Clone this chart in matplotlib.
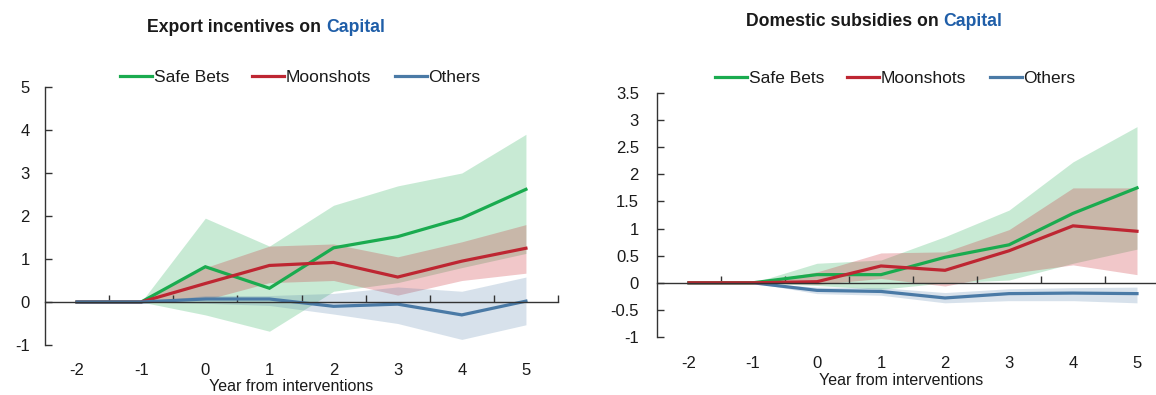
import numpy as np
import matplotlib
matplotlib.use("Agg")
import matplotlib.pyplot as plt

plt.rcParams["font.family"] = ["Liberation Sans", "DejaVu Sans"]

# ---- data -----------------------------------------------------------------
years = [-2, -1, 0, 1, 2, 3, 4, 5]
series_names = ["Safe Bets", "Moonshots", "Others"]

# Export incentives on Capital
exp_safe = [0, 0, 0.82, 0.32, 1.26, 1.52, 1.95, 2.62]
exp_safe_hi = [0, 0, 1.95, 1.30, 2.25, 2.70, 3.00, 3.90]
exp_safe_lo = [0, 0, -0.30, -0.68, 0.25, 0.45, 0.80, 1.13]
exp_moon = [0, 0, 0.43, 0.85, 0.92, 0.58, 0.95, 1.25]
exp_moon_hi = [0, 0, 0.80, 1.30, 1.35, 1.05, 1.40, 1.80]
exp_moon_lo = [0, 0, 0.05, 0.45, 0.50, 0.16, 0.50, 0.67]
exp_oth = [0, 0, 0.07, 0.07, -0.10, -0.05, -0.30, 0.02]
exp_oth_hi = [0, 0, 0.15, 0.15, 0.20, 0.35, 0.25, 0.58]
exp_oth_lo = [0, 0, -0.03, -0.08, -0.28, -0.50, -0.87, -0.53]

# Domestic subsidies on Capital
dom_safe = [0, 0, 0.15, 0.15, 0.47, 0.70, 1.28, 1.75]
dom_safe_hi = [0, 0, 0.36, 0.42, 0.85, 1.34, 2.23, 2.88]
dom_safe_lo = [0, 0, -0.05, -0.12, 0.00, 0.05, 0.36, 0.62]
dom_moon = [0, 0, 0.02, 0.31, 0.23, 0.59, 1.05, 0.95]
dom_moon_hi = [0, 0, 0.20, 0.55, 0.57, 0.98, 1.75, 1.75]
dom_moon_lo = [0, 0, -0.03, 0.08, -0.06, 0.17, 0.33, 0.15]
dom_oth = [0, 0, -0.14, -0.16, -0.28, -0.20, -0.19, -0.20]
dom_oth_hi = [0, 0, -0.08, -0.09, -0.18, -0.11, -0.09, -0.08]
dom_oth_lo = [0, 0, -0.20, -0.23, -0.37, -0.33, -0.33, -0.37]

left_yticks = [-1, 0, 1, 2, 3, 4, 5]
left_ylabels = ["-1", "0", "1", "2", "3", "4", "5"]
right_yticks = [-1, -0.5, 0, 0.5, 1, 1.5, 2, 2.5, 3, 3.5]
right_ylabels = ["-1", "-0.5", "0", "0.5", "1", "1.5", "2", "2.5", "3", "3.5"]
year_labels = ["-2", "-1", "0", "1", "2", "3", "4", "5"]

# ---- style ----------------------------------------------------------------
GREEN = "#1aab4f"
RED = "#be2632"
BLUE = "#4a7aa6"
BAND = {"green": ("#1aab4f", 0.24), "red": ("#c8202a", 0.25), "blue": ("#4a7aa6", 0.22)}
AXIS_C = "#333333"
TEXT_C = "#1a1a1a"
TITLE_BLUE = "#1f5ea8"
LW = 2.3

W, H = 1156, 395
fig = plt.figure(figsize=(W / 100, H / 100), dpi=100)


def px_box(x0, x1, ytop, ybot):
    return [x0 / W, 1 - ybot / H, (x1 - x0) / W, (ybot - ytop) / H]


def style_axes(ax, ylim, yticks, ylabels, ypad, xpad, xlabel_x):
    ax.set_xlim(-2.5, 5.5)
    ax.set_ylim(*ylim)
    for s in ("top", "right"):
        ax.spines[s].set_visible(False)
    ax.spines["bottom"].set_position(("data", 0))
    for s in ("bottom", "left"):
        ax.spines[s].set_color(AXIS_C)
        ax.spines[s].set_linewidth(1.0)
    # category boundaries carry the tick marks on the zero line
    ax.set_xticks(np.arange(-1.5, 6.0, 1.0))
    ax.tick_params(axis="x", direction="in", length=5, width=1,
                   color=AXIS_C, labelbottom=False)
    ax.set_yticks(yticks)
    ax.set_yticklabels(ylabels)
    ax.tick_params(axis="y", direction="in", length=5, width=1, color=AXIS_C,
                   pad=ypad, labelsize=12, labelcolor=TEXT_C)
    # category labels along the bottom edge
    sec = ax.secondary_xaxis("bottom")
    sec.set_xticks(years, labels=year_labels)
    sec.tick_params(length=0, pad=xpad, labelsize=12, labelcolor=TEXT_C)
    sec.spines["bottom"].set_visible(False)
    sec.set_xlabel("Year from interventions", fontsize=11.5, color=TEXT_C,
                   labelpad=1)
    sec.xaxis.label.set_x(xlabel_x)


def draw_panel(ax, safe, safe_lo, safe_hi, moon, moon_lo, moon_hi,
               oth, oth_lo, oth_hi, order):
    ax.fill_between(years, safe_lo, safe_hi, color=BAND["green"][0],
                    alpha=BAND["green"][1], lw=0)
    ax.fill_between(years, moon_lo, moon_hi, color=BAND["red"][0],
                    alpha=BAND["red"][1], lw=0)
    ax.fill_between(years, oth_lo, oth_hi, color=BAND["blue"][0],
                    alpha=BAND["blue"][1], lw=0)
    lines = {}
    specs = {"Safe Bets": (safe, GREEN), "Moonshots": (moon, RED),
             "Others": (oth, BLUE)}
    for name in order:
        vals, col = specs[name]
        (ln,) = ax.plot(years, vals, color=col, lw=LW,
                        solid_joinstyle="miter", label=name)
        lines[name] = ln
    return [lines[n] for n in series_names]


axL = fig.add_axes(px_box(45, 558, 87, 345))
axR = fig.add_axes(px_box(657, 1169, 93, 337))

style_axes(axL, (-1, 5), left_yticks, left_ylabels, ypad=11, xpad=13,
           xlabel_x=0.48)
style_axes(axR, (-1, 3.5), right_yticks, right_ylabels, ypad=13, xpad=14,
           xlabel_x=0.477)

hL = draw_panel(axL, exp_safe, exp_safe_lo, exp_safe_hi,
                exp_moon, exp_moon_lo, exp_moon_hi,
                exp_oth, exp_oth_lo, exp_oth_hi,
                order=["Safe Bets", "Moonshots", "Others"])
hR = draw_panel(axR, dom_safe, dom_safe_lo, dom_safe_hi,
                dom_moon, dom_moon_lo, dom_moon_hi,
                dom_oth, dom_oth_lo, dom_oth_hi,
                order=["Others", "Safe Bets", "Moonshots"])

for handles, x_left, y_mid in ((hL, 120, 77), (hR, 715, 78)):
    fig.legend(handles, series_names, loc="center left",
               bbox_to_anchor=(x_left / W, 1 - y_mid / H), ncol=3,
               frameon=False, fontsize=12.5, handlelength=1.85,
               handletextpad=0.08, columnspacing=1.35, borderpad=0,
               borderaxespad=0, labelcolor=TEXT_C)


# two-tone panel titles
def two_tone_title(cx, cy, first, second, size=12.7):
    kw = dict(fontsize=size, fontweight="bold", va="center", ha="left")
    t1 = fig.text(0, 1 - cy / H, first, color=TEXT_C, **kw)
    t2 = fig.text(0, 1 - cy / H, second, color=TITLE_BLUE, **kw)
    return t1, t2


titles = [two_tone_title(266, 27, "Export incentives on", "Capital"),
          two_tone_title(874, 22, "Domestic subsidies on", "Capital")]
centers = [266, 874]
fig.canvas.draw()
renderer = fig.canvas.get_renderer()
gap = 5.0
for (t1, t2), cx in zip(titles, centers):
    w1 = t1.get_window_extent(renderer).width
    w2 = t2.get_window_extent(renderer).width
    x0 = cx - (w1 + gap + w2) / 2
    t1.set_x(x0 / W)
    t2.set_x((x0 + w1 + gap) / W)

fig.savefig("out.png", dpi=100, facecolor="white")
